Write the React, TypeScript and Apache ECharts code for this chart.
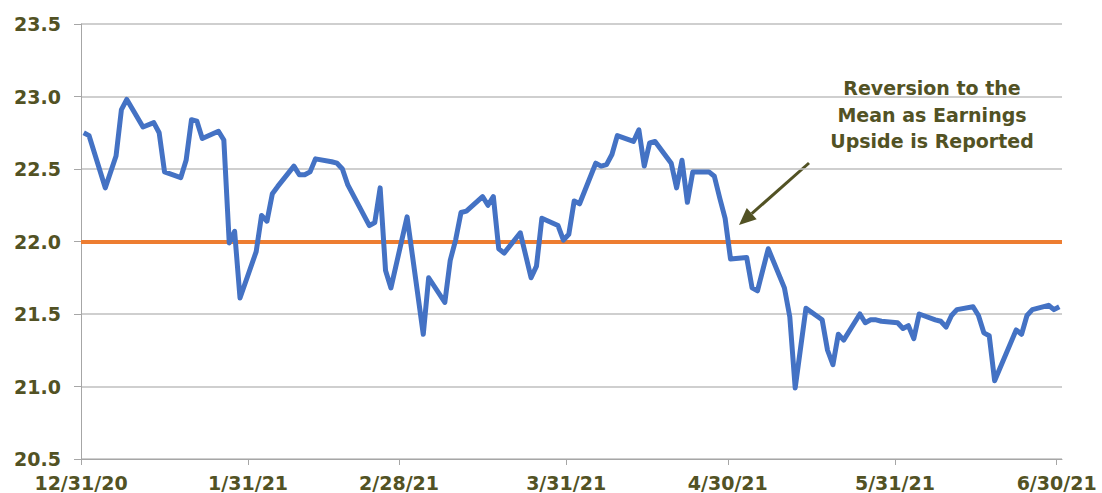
import React, { useEffect, useRef } from "react";
import * as echarts from "echarts";

const dates: string[] = [
  "2020-12-31", "2021-01-01", "2021-01-04", "2021-01-06", "2021-01-07", "2021-01-08",
  "2021-01-11", "2021-01-13", "2021-01-14", "2021-01-15", "2021-01-18", "2021-01-19",
  "2021-01-20", "2021-01-21", "2021-01-22", "2021-01-25", "2021-01-26", "2021-01-27",
  "2021-01-28", "2021-01-29", "2021-02-01", "2021-02-02", "2021-02-03", "2021-02-04",
  "2021-02-05", "2021-02-08", "2021-02-09", "2021-02-10", "2021-02-11", "2021-02-12",
  "2021-02-15", "2021-02-16", "2021-02-17", "2021-02-18", "2021-02-22", "2021-02-23",
  "2021-02-24", "2021-02-25", "2021-02-26", "2021-03-01", "2021-03-04", "2021-03-05",
  "2021-03-08", "2021-03-09", "2021-03-10", "2021-03-11", "2021-03-12", "2021-03-15",
  "2021-03-16", "2021-03-17", "2021-03-18", "2021-03-19", "2021-03-22", "2021-03-24",
  "2021-03-25", "2021-03-26", "2021-03-29", "2021-03-30", "2021-03-31", "2021-04-01",
  "2021-04-02", "2021-04-05", "2021-04-06", "2021-04-07", "2021-04-08", "2021-04-09",
  "2021-04-12", "2021-04-13", "2021-04-14", "2021-04-15", "2021-04-16", "2021-04-19",
  "2021-04-20", "2021-04-21", "2021-04-22", "2021-04-23", "2021-04-26", "2021-04-27",
  "2021-04-28", "2021-04-29", "2021-04-30", "2021-05-03", "2021-05-04", "2021-05-05",
  "2021-05-07", "2021-05-10", "2021-05-11", "2021-05-12", "2021-05-14", "2021-05-17",
  "2021-05-18", "2021-05-19", "2021-05-20", "2021-05-21", "2021-05-24", "2021-05-25",
  "2021-05-26", "2021-05-27", "2021-05-28", "2021-05-31", "2021-06-01", "2021-06-02",
  "2021-06-03", "2021-06-04", "2021-06-07", "2021-06-08", "2021-06-09", "2021-06-10",
  "2021-06-11", "2021-06-14", "2021-06-15", "2021-06-16", "2021-06-17", "2021-06-18",
  "2021-06-22", "2021-06-23", "2021-06-24", "2021-06-25", "2021-06-28", "2021-06-29",
  "2021-06-30",
];

const peValues: number[] = [
  22.75, 22.73, 22.37, 22.59, 22.91, 22.98,
  22.79, 22.82, 22.75, 22.48, 22.44, 22.56,
  22.84, 22.83, 22.71, 22.76, 22.70, 21.99,
  22.07, 21.61, 21.93, 22.18, 22.14, 22.33,
  22.38, 22.52, 22.46, 22.46, 22.48, 22.57,
  22.55, 22.54, 22.50, 22.39, 22.11, 22.13,
  22.37, 21.80, 21.68, 22.17, 21.36, 21.75,
  21.58, 21.87, 22.01, 22.20, 22.21, 22.31,
  22.25, 22.31, 21.95, 21.92, 22.06, 21.75,
  21.83, 22.16, 22.11, 22.01, 22.05, 22.28,
  22.26, 22.54, 22.52, 22.53, 22.60, 22.73,
  22.69, 22.77, 22.52, 22.68, 22.69, 22.54,
  22.37, 22.56, 22.27, 22.48, 22.48, 22.45,
  22.30, 22.16, 21.88, 21.89, 21.68, 21.66,
  21.95, 21.68, 21.48, 20.99, 21.54, 21.46,
  21.25, 21.15, 21.36, 21.32, 21.50, 21.44,
  21.46, 21.46, 21.45, 21.44, 21.40, 21.42,
  21.33, 21.50, 21.46, 21.45, 21.41, 21.49,
  21.53, 21.55, 21.49, 21.37, 21.35, 21.04,
  21.39, 21.36, 21.49, 21.53, 21.56, 21.53,
  21.55,
];

const meanValue = 22.0;

const tickDates: string[] = ["2020-12-31", "2021-01-31", "2021-02-28", "2021-03-31", "2021-04-30", "2021-05-31", "2021-06-30"];
const tickLabels: string[] = ["12/31/20", "1/31/21", "2/28/21", "3/31/21", "4/30/21", "5/31/21", "6/30/21"];
const axisEndDate = "2021-07-01";

const annotationText = "Reversion to the\nMean as Earnings\nUpside is Reported";

const ORIGIN = Date.UTC(2020, 11, 31);
function dayIndex(s: string): number {
  const [y, m, d] = s.split("-").map(Number);
  return Math.round((Date.UTC(y, m - 1, d) - ORIGIN) / 86400000);
}

const TEXT_COLOR = "#525224";
const FONT = "'DejaVu Sans', Verdana, sans-serif";

export default function App() {
  const ref = useRef<HTMLDivElement>(null);

  useEffect(() => {
    if (!ref.current) return;
    const chart = echarts.init(ref.current, undefined, { renderer: "svg" });

    const tickVals = tickDates.map(dayIndex);
    const labelMap: Record<number, string> = {};
    tickVals.forEach((v, i) => (labelMap[v] = tickLabels[i]));
    const lineData = dates.map((d, i) => [dayIndex(d) + 0.5, peValues[i]]);

    // arrow geometry
    const start = [809, 163];
    const tip = [739, 225];
    const dx = tip[0] - start[0];
    const dy = tip[1] - start[1];
    const len = Math.sqrt(dx * dx + dy * dy);
    const ux = dx / len;
    const uy = dy / len;
    const headLen = 17;
    const headHalf = 7.5;
    const base = [tip[0] - ux * headLen, tip[1] - uy * headLen];
    const px = -uy;
    const py = ux;

    chart.setOption({
      animation: false,
      grid: { left: 81, right: 40, top: 24, bottom: 34, containLabel: false },
      xAxis: {
        type: "value",
        min: 0,
        max: dayIndex(axisEndDate),
        axisLine: { show: true, lineStyle: { color: "#A6A6A6", width: 1 } },
        axisTick: { show: true, length: 6, customValues: tickVals, lineStyle: { color: "#A6A6A6" } },
        axisLabel: {
          customValues: tickVals,
          formatter: (v: number) => labelMap[Math.round(v)] ?? "",
          color: TEXT_COLOR,
          fontFamily: FONT,
          fontWeight: "bold",
          fontSize: 19,
          margin: 14,
        },
        splitLine: { show: false },
      },
      yAxis: {
        type: "value",
        min: 20.5,
        max: 23.5,
        interval: 0.5,
        axisLine: { show: true, lineStyle: { color: "#A6A6A6", width: 1 } },
        axisTick: { show: true, length: 7, lineStyle: { color: "#A6A6A6" } },
        axisLabel: {
          formatter: (v: number) => v.toFixed(1),
          color: TEXT_COLOR,
          fontFamily: FONT,
          fontWeight: "bold",
          fontSize: 19,
          margin: 20,
        },
        splitLine: { show: true, lineStyle: { color: "#BFBFBF", width: 1.5 } },
      },
      series: [
        {
          type: "line",
          data: lineData,
          showSymbol: false,
          symbol: "none",
          lineStyle: { color: "#4472C4", width: 5, join: "round" },
          z: 3,
          markLine: {
            silent: true,
            symbol: "none",
            label: { show: false },
            lineStyle: { color: "#ED7D31", width: 4, type: "solid" },
            data: [{ yAxis: meanValue }],
            z: 2,
          },
        },
      ],
      graphic: [
        {
          type: "text",
          left: 932 - 110,
          top: 75,
          style: {
            text: annotationText,
            fill: TEXT_COLOR,
            font: `bold 19px ${FONT}`,
            textAlign: "center",
            lineHeight: 26.5,
            width: 220,
          },
        },
        {
          type: "line",
          shape: { x1: start[0], y1: start[1], x2: base[0], y2: base[1] },
          style: { stroke: TEXT_COLOR, lineWidth: 3 },
        },
        {
          type: "polygon",
          shape: {
            points: [
              [tip[0], tip[1]],
              [base[0] + px * headHalf, base[1] + py * headHalf],
              [base[0] - px * headHalf, base[1] - py * headHalf],
            ],
          },
          style: { fill: TEXT_COLOR },
        },
      ],
    });

    return () => chart.dispose();
  }, []);

  return (
    <div
      ref={ref}
      style={{ position: "fixed", left: 0, top: 0, width: 1102, height: 493, background: "#fff" }}
    />
  );
}
